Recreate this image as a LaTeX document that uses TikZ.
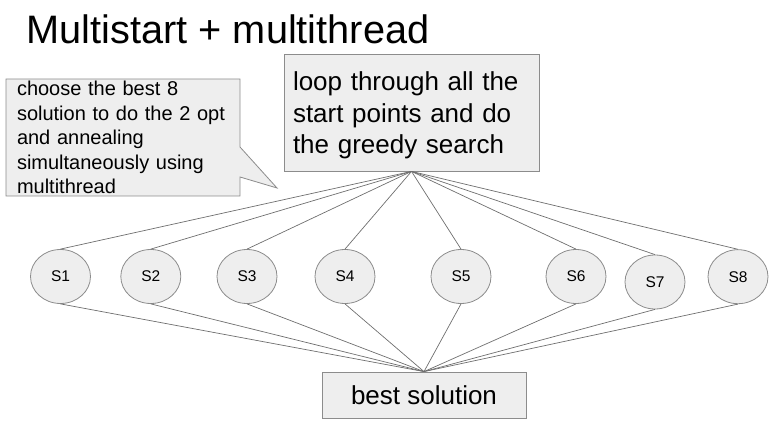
\documentclass[tikz,border=0pt]{standalone}
\usepackage{fontspec}
\setmainfont{Liberation Sans}
\usetikzlibrary{shapes.geometric}

\definecolor{boxfill}{HTML}{EEEEEE}
\definecolor{boxedge}{HTML}{8C8C8C}
\definecolor{linkgray}{HTML}{6E6E6E}

\begin{document}
\begin{tikzpicture}[x=1pt, y=-1pt,
        box/.style={draw=boxedge, fill=boxfill, line width=0.8pt, rectangle, inner ysep=0pt},
        state/.style={draw=boxedge, fill=boxfill, line width=0.8pt, ellipse, inner sep=0pt,
            minimum width=60pt, minimum height=54pt, font=\fontsize{15.5}{18}\selectfont},
        link/.style={draw=linkgray, line width=0.7pt}]
        \useasboundingbox (0,0) rectangle (784,430);

        \node[anchor=base west, inner sep=0pt, font=\fontsize{39.7}{44}\selectfont] (title) at (26.5,43.3) {Multistart + multithread};

        % callout
        \coordinate (tip) at (277,188);
        \filldraw[draw=boxedge, fill=boxfill, line width=0.8pt] (6,79) -- (240,79) -- (240,147) -- (tip) -- (240,177) -- (240,196) -- (6,196) -- cycle;
        \node[inner xsep=11pt, inner ysep=0pt, text width=212pt, align=left,
            font=\fontsize{20}{24.4}\selectfont] (note) at (123,137.5)
            {choose the best 8\\solution to do the 2 opt\\and annealing\\simultaneously using\\multithread};

        \node[box, minimum width=255pt, minimum height=117pt, inner xsep=9pt, text width=237pt, align=left,
            font=\fontsize{26}{31.7}\selectfont] (loop) at (411.5,112.5)
            {\rule{0pt}{25pt}loop through all the\\start points and do\\the greedy search};

        \node[box, minimum width=204pt, minimum height=46pt,
            font=\fontsize{26}{32}\selectfont] (best) at (424,395) {best solution};

        \foreach \n/\x/\y in {1/60.5/276.5, 2/150.8/276.5, 3/247/276.5, 4/345/276.5,
                5/461/276.5, 6/576/276.5, 7/655/282, 8/738/276.7} {
            \node[state] (s\n) at (\x,\y) {S\n};
            \draw[link] (loop.south) -- (s\n.north);
            \draw[link] (s\n.south) -- (best.north);
        }
    \end{tikzpicture}
\end{document}
